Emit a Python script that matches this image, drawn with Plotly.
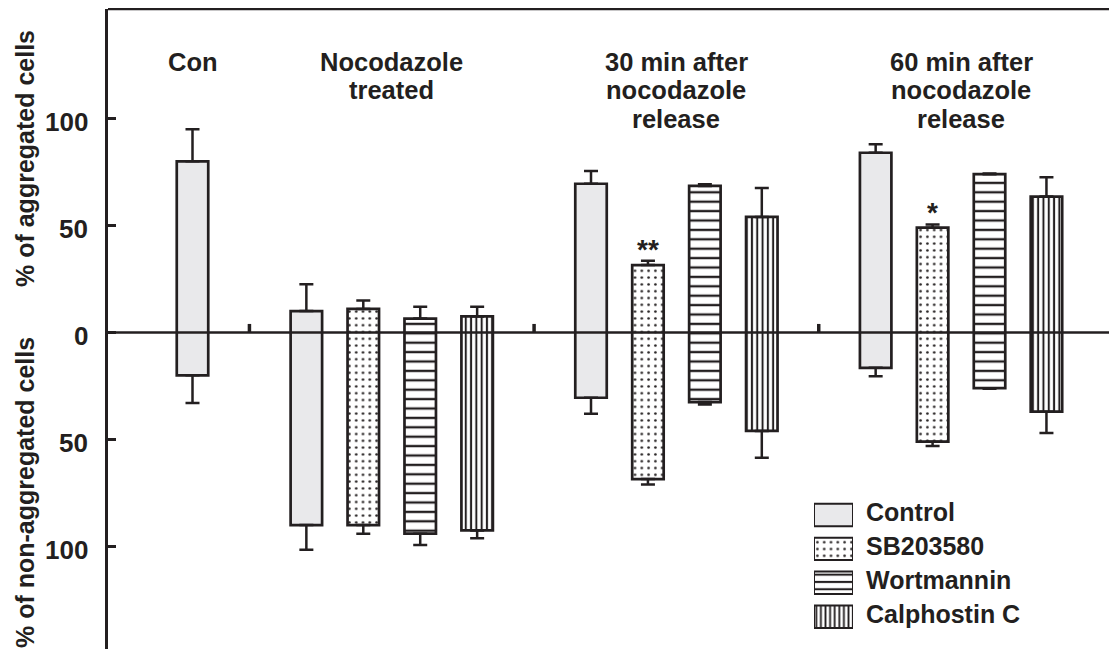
import plotly.graph_objects as go

DARK = "#231f20"
FONT = "Liberation Sans, Arial, Helvetica, sans-serif"

# ---------------- data ----------------
group_header_lines = [
    ["Con"],
    ["Nocodazole", "treated"],
    ["30 min after", "nocodazole", "release"],
    ["60 min after", "nocodazole", "release"],
]
treatments = ["Control", "SB203580", "Wortmannin", "Calphostin C"]
group_members = [["Control"], treatments, treatments, treatments]

# values per group: Con, Nocodazole treated, 30 min, 60 min (None = not measured)
agg_control = [80, 10, 69.5, 84]
agg_sb = [None, 11, 31.5, 49]
agg_wort = [None, 6.5, 68.5, 74]
agg_calph = [None, 7.5, 54, 63.5]

agg_err_control = [15, 12.5, 6, 4]
agg_err_sb = [None, 4, 2, 1.5]
agg_err_wort = [None, 5.5, 0.8, 0.3]
agg_err_calph = [None, 4.5, 13.5, 9]

non_control = [20, 90, 30.5, 16.5]
non_sb = [None, 90, 68.5, 51]
non_wort = [None, 94, 32.5, 26]
non_calph = [None, 92.5, 46, 37]

non_err_control = [13, 11.5, 7.5, 4]
non_err_sb = [None, 4, 2.5, 2]
non_err_wort = [None, 5.3, 1.2, 0.3]
non_err_calph = [None, 3.7, 12.5, 10]

sig_sb = [None, None, "**", "*"]

y_tick_vals = [100, 50, 0, -50, -100]
y_tick_text = ["100", "50", "0", "50", "100"]

series = {
    "Control": (agg_control, agg_err_control, non_control, non_err_control),
    "SB203580": (agg_sb, agg_err_sb, non_sb, non_err_sb),
    "Wortmannin": (agg_wort, agg_err_wort, non_wort, non_err_wort),
    "Calphostin C": (agg_calph, agg_err_calph, non_calph, non_err_calph),
}
significance = {"SB203580": sig_sb}

# ---------------- styles ----------------
def pat(shape, size, solidity):
    return dict(shape=shape, size=size, solidity=solidity,
                fgcolor=DARK, bgcolor="white", fillmode="replace")

styles = {
    "Control": dict(color="#e9e9eb"),
    "SB203580": dict(color="white", pattern=pat(".", 6.8, 0.12)),
    "Wortmannin": dict(color="white", pattern=pat("-", 9.4, 0.25)),
    "Calphostin C": dict(color="white", pattern=pat("|", 5.3, 0.38)),
}
legend_styles = {
    "Control": dict(color="#e9e9eb"),
    "SB203580": dict(color="white", pattern=pat(".", 6.8, 0.12)),
    "Wortmannin": dict(color="white", pattern=pat("-", 7.3, 0.28)),
    "Calphostin C": dict(color="white", pattern=pat("|", 4.6, 0.4)),
}

# page geometry (the page body adds an 8px offset)
PL, PT = 100, 1            # margins
FIG_W, FIG_H = 1109, 641
PW, PH = FIG_W - PL, FIG_H - PT
OFF = 8


def px_to_paper_x(xs):
    return (xs - OFF - PL) / PW


def px_to_paper_y(ys):
    return (FIG_H + OFF - ys) / PH

# ---------------- slot layout (derived from group structure) ----------------
positions = {}
sep_slots = []
header_x = []
slot = 0
for g, members in enumerate(group_members):
    xs = []
    for t in members:
        positions[(g, t)] = slot
        xs.append(slot)
        slot += 1
    header_x.append(sum(xs) / len(xs))
    if g < len(group_members) - 1:
        sep_slots.append(slot)
        slot += 1

fig = go.Figure()
annotations = []

for t in treatments:
    agg, agg_e, non, non_e = series[t]
    xs, tops, bases, ae, ne, aggs, nons = [], [], [], [], [], [], []
    for g in range(len(group_members)):
        if (g, t) in positions and agg[g] is not None:
            xs.append(positions[(g, t)])
            tops.append(agg[g] + non[g])
            bases.append(-non[g])
            aggs.append(agg[g])
            nons.append(-non[g])
            ae.append(agg_e[g])
            ne.append(non_e[g])
    st = styles[t]
    marker = dict(color=st["color"], line=dict(color=DARK, width=2.7))
    if "pattern" in st:
        marker["pattern"] = st["pattern"]
    fig.add_trace(go.Bar(x=xs, y=tops, base=bases, width=0.553, marker=marker,
                         name=t, showlegend=False, hoverinfo="skip"))
    fig.add_trace(go.Scatter(x=xs, y=aggs, mode="markers",
                             marker=dict(size=1, color="rgba(0,0,0,0)"),
                             error_y=dict(type="data", symmetric=False, array=ae,
                                          arrayminus=[0] * len(ae), width=7,
                                          thickness=2.5, color=DARK),
                             showlegend=False, hoverinfo="skip"))
    fig.add_trace(go.Scatter(x=xs, y=nons, mode="markers",
                             marker=dict(size=1, color="rgba(0,0,0,0)"),
                             error_y=dict(type="data", symmetric=False, array=[0] * len(ne),
                                          arrayminus=ne, width=7,
                                          thickness=2.5, color=DARK),
                             showlegend=False, hoverinfo="skip"))
    if t in significance:
        for g, s in enumerate(significance[t]):
            if s:
                annotations.append(dict(x=positions[(g, t)], y=agg[g] + agg_e[g], xref="x", yref="y",
                                        text="<b>%s</b>" % s, showarrow=False, yanchor="bottom",
                                        yshift=-6, font=dict(family=FONT, size=28, color=DARK)))

# legend swatches in a small secondary axes
for i, t in enumerate(treatments):
    st = legend_styles[t]
    marker = dict(color=st["color"], line=dict(color=DARK, width=2))
    if "pattern" in st:
        marker["pattern"] = st["pattern"]
    fig.add_trace(go.Bar(x=[1], y=[i], base=[0], orientation="h", width=0.66,
                         marker=marker, xaxis="x2", yaxis="y2",
                         showlegend=False, hoverinfo="skip"))
    annotations.append(dict(x=0, y=i, xref="x2 domain", yref="y2", text="<b>%s</b>" % t,
                            showarrow=False, xanchor="left", yanchor="middle", xshift=50, yshift=3,
                            font=dict(family=FONT, size=25, color=DARK)))

# group headers
line_gap = 28.5
for g, lines in enumerate(group_header_lines):
    for k, ln in enumerate(lines):
        annotations.append(dict(x=header_x[g], y=px_to_paper_y(62 + k * line_gap), xref="x",
                                yref="paper", text="<b>%s</b>" % ln,
                                showarrow=False, xanchor="center", yanchor="middle",
                                font=dict(family=FONT, size=25.5, color=DARK)))

# y tick labels (placed as text next to the axis, slightly below tick centre as in the original)
for v, lab in zip(y_tick_vals, y_tick_text):
    annotations.append(dict(x=px_to_paper_x(90), y=v, xref="paper", yref="y", text="<b>%s</b>" % lab,
                            showarrow=False, xanchor="right", yanchor="middle", yshift=-3,
                            font=dict(family=FONT, size=26, color=DARK)))

# y axis titles
annotations.append(dict(x=px_to_paper_x(25), y=px_to_paper_y(159), xref="paper", yref="paper",
                        text="<b>% of aggregated cells</b>", textangle=-90, showarrow=False,
                        xanchor="center", yanchor="middle",
                        font=dict(family=FONT, size=25, color=DARK)))
annotations.append(dict(x=px_to_paper_x(25), y=px_to_paper_y(493), xref="paper", yref="paper",
                        text="<b>% of non-aggregated cells</b>", textangle=-90, showarrow=False,
                        xanchor="center", yanchor="middle",
                        font=dict(family=FONT, size=25, color=DARK)))

shapes = []
shapes.append(dict(type="line", xref="paper", yref="y", x0=0, x1=1, y0=0, y1=0,
                   line=dict(color=DARK, width=2.7), layer="above"))
shapes.append(dict(type="line", xref="paper", yref="paper", x0=0, x1=1, y0=1, y1=1,
                   line=dict(color=DARK, width=2.7), layer="above"))
for s in sep_slots:
    shapes.append(dict(type="line", xref="x", yref="y", x0=s, x1=s, y0=0, y1=4,
                       line=dict(color=DARK, width=3.5), layer="above"))

# axis ranges from pixel geometry: zero at y=332.5, 2.14 px/unit; slot 0 at x=192.5, 56.93 px/slot
Y_TOP = (332.5 - (OFF + PT)) / 2.14
Y_BOT = -(OFF + FIG_H - 332.5) / 2.14
X_LEFT = (OFF + PL - 192.5) / 56.93
X_RIGHT = (OFF + FIG_W - 192.5) / 56.93

fig.update_layout(
    width=FIG_W, height=FIG_H,
    margin=dict(l=PL, r=0, t=PT, b=0),
    paper_bgcolor="white", plot_bgcolor="white",
    barmode="overlay",
    showlegend=False,
    xaxis=dict(range=[X_LEFT, X_RIGHT], showgrid=False, zeroline=False, showline=False,
               showticklabels=False, ticks="", fixedrange=True),
    yaxis=dict(range=[Y_BOT, Y_TOP], showgrid=False, zeroline=False,
               showline=True, linecolor=DARK, linewidth=2.7,
               ticks="inside", ticklen=8, tickwidth=2.5, tickcolor=DARK,
               tickvals=y_tick_vals, showticklabels=False, fixedrange=True),
    xaxis2=dict(domain=[px_to_paper_x(814), px_to_paper_x(853)], range=[0, 1], anchor="y2",
                visible=False, fixedrange=True),
    yaxis2=dict(domain=[px_to_paper_y(633.7), px_to_paper_y(498)], range=[3.5, -0.5], anchor="x2",
                visible=False, fixedrange=True),
    annotations=annotations,
    shapes=shapes,
)

fig.write_html("out.html")
